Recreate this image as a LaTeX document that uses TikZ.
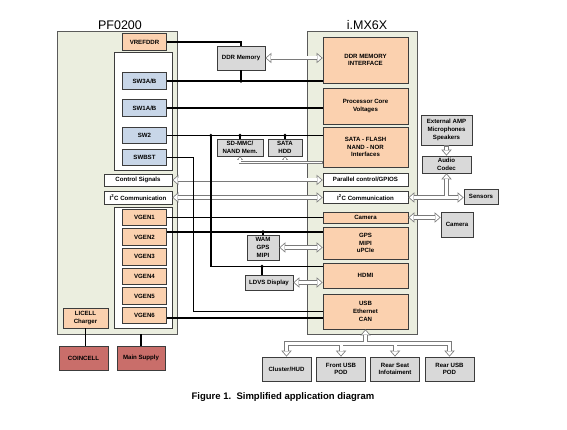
\documentclass[tikz,border=0pt]{standalone}
\usepackage{fontspec}
\setmainfont{Liberation Sans}
\usetikzlibrary{arrows.meta}

\definecolor{chipgreen}{HTML}{EBEEDF}
\definecolor{chipline}{HTML}{5A5A5A}
\definecolor{boxline}{HTML}{3C3C3C}
\definecolor{pwrorange}{HTML}{FBD1AF}
\definecolor{swblue}{HTML}{C8D6E8}
\definecolor{extgray}{HTML}{D9D9D9}
\definecolor{cellred}{HTML}{C96E6A}
\definecolor{pipegray}{HTML}{7A7A7A}
\newcommand\boxfont{\bfseries\fontsize{6.1}{7.7}\selectfont}

\begin{document}
\begin{tikzpicture}[x=1pt, y=-1pt,
		chip/.style={draw=chipline, fill=chipgreen, line width=0.8pt, inner sep=0pt},
		group/.style={draw=boxline, fill=white, line width=0.8pt, inner sep=0pt},
		blk/.style={draw=boxline, line width=0.8pt, inner sep=0pt, align=center, font=\boxfont},
		pwr/.style={blk, fill=pwrorange},
		sw/.style={blk, fill=swblue},
		ext/.style={blk, fill=extgray},
		bus/.style={blk, fill=white},
		cell/.style={blk, fill=cellred},
		pfbox/.style={minimum width=44pt, minimum height=16.5pt},
		imxbox/.style={minimum width=85pt},
		podbox/.style={ext, minimum width=49pt, minimum height=24pt},
		title/.style={font=\fontsize{12.5}{14}\selectfont, inner sep=0pt},
		wire/.style={line width=1.6pt},
		junction/.style={circle, fill, inner sep=0pt, minimum size=3.6pt},
		hollow/.style={draw=pipegray, line width=4.6pt,
			>={Triangle[length=6pt, width=10.5pt, line width=0pt]}},
		hollowfill/.style={draw=white, line width=3pt,
			>={Triangle[length=4pt, width=7pt, line width=0pt]}, shorten >=1.2pt, shorten <=1.2pt},
		thinpipe/.style={draw=pipegray, line width=2.8pt,
			>={Triangle[length=3.5pt, width=6pt, line width=0pt]}},
		thinpipefill/.style={draw=white, line width=1.4pt,
			>={Triangle[length=2.2pt, width=3.8pt, line width=0pt]}, shorten >=0.9pt, shorten <=0.9pt}]
		\useasboundingbox (0,0) rectangle (567,430);

		% the two chips
		\draw (117,182.5) node[chip, minimum width=120pt, minimum height=303pt] (pf) {};
		\draw (120,25) node[title] (pftitle) {PF0200};
		\draw (362,182.5) node[chip, minimum width=110pt, minimum height=303pt] (imx) {};
		\draw (367,25) node[title] (imxtitle) {i.MX6X};

		% PF0200 blocks
		\draw (143,111) node[group, minimum width=58pt, minimum height=118pt] (swgroup) {};
		\draw (143,267.5) node[group, minimum width=58pt, minimum height=121pt] (vgroup) {};
		\draw (144.5,42) node[pwr, pfbox] (vref) {VREFDDR};
		\draw (144.5,81) node[sw, pfbox] (sw3) {SW3A/B};
		\draw (144.5,108) node[sw, pfbox] (sw1) {SW1A/B};
		\draw (144.5,135.5) node[sw, pfbox] (sw2) {SW2};
		\draw (144.5,157.5) node[sw, pfbox] (swbst) {SWBST};
		\draw (138,180) node[bus, minimum width=68pt, minimum height=12pt] (ctrl) {Control Signals};
		\draw (138,197.5) node[bus, minimum width=68pt, minimum height=13pt] (i2cl) {I\textsuperscript{2}C Communication};
		\draw (144.5,217.5) node[pwr, pfbox] (vgen1) {VGEN1};
		\draw (144.5,237.1) node[pwr, pfbox] (vgen2) {VGEN2};
		\draw (144.5,256.7) node[pwr, pfbox] (vgen3) {VGEN3};
		\draw (144.5,276.3) node[pwr, pfbox] (vgen4) {VGEN4};
		\draw (144.5,295.9) node[pwr, pfbox] (vgen5) {VGEN5};
		\draw (144.5,315.5) node[pwr, pfbox] (vgen6) {VGEN6};
		\draw (85.5,318) node[pwr, minimum width=45pt, minimum height=20pt] (licell) {LICELL\\Charger};
		\draw (83.5,358) node[cell, minimum width=49pt, minimum height=24pt] (coin) {COINCELL};
		\draw (141,358) node[cell, minimum width=48pt, minimum height=24pt] (main) {Main Supply};

		% i.MX6X blocks
		\draw (365.5,60) node[pwr, imxbox, minimum height=46pt] (ddrif) {DDR MEMORY\\INTERFACE};
		\draw (365.5,106) node[pwr, imxbox, minimum height=36pt] (pcv) {Processor Core\\Voltages};
		\draw (365.5,147) node[pwr, imxbox, minimum height=40pt] (sataif) {SATA - FLASH\\NAND - NOR\\Interfaces};
		\draw (365.5,179.5) node[bus, imxbox, minimum height=13pt] (par) {Parallel control/GPIOS};
		\draw (365.5,197.5) node[bus, imxbox, minimum height=12pt] (i2cr) {I\textsuperscript{2}C Communication};
		\draw (365.5,217.5) node[pwr, imxbox, minimum height=11pt] (camin) {Camera};
		\draw (365.5,243) node[pwr, imxbox, minimum height=32pt] (gps) {GPS\\MIPI\\uPCIe};
		\draw (365.5,275.5) node[pwr, imxbox, minimum height=25pt] (hdmi) {HDMI};
		\draw (365.5,311.5) node[pwr, imxbox, minimum height=35pt] (usb) {USB\\Ethernet\\CAN};

		% devices
		\draw (241,58) node[ext, minimum width=48pt, minimum height=24pt] (ddrmem) {DDR Memory};
		\draw (240,147.5) node[ext, minimum width=46pt, minimum height=17pt] (sdmmc) {SD-MMC/\\NAND Mem.};
		\draw (285,147.5) node[ext, minimum width=34pt, minimum height=17pt] (hdd) {SATA\\HDD};
		\draw (263,247.5) node[ext, minimum width=32pt, minimum height=25pt] (wam) {WAM\\GPS\\MIPI};
		\draw (269,282.5) node[ext, minimum width=48pt, minimum height=15pt] (ldvs) {LDVS Display};
		\draw (446.5,130) node[ext, minimum width=51pt, minimum height=30pt] (amp) {External AMP\\Microphones\\Speakers};
		\draw (446.5,164.5) node[ext, minimum width=49pt, minimum height=17pt] (codec) {Audio\\Codec};
		\draw (481,196.5) node[ext, minimum width=34pt, minimum height=15pt] (sensors) {Sensors};
		\draw (457,224.5) node[ext, minimum width=32pt, minimum height=25pt] (camext) {Camera};
		\draw (286.5,369) node[podbox] (cluster) {Cluster/HUD};
		\draw (341,369) node[podbox] (frontusb) {Front USB\\POD};
		\draw (395,369) node[podbox] (rearseat) {Rear Seat\\Infotaiment};
		\draw (449.5,369) node[podbox] (rearusb) {Rear USB\\POD};

		\coordinate (satabus) at ([yshift=5pt]sataif.south west);
		\coordinate (podbus) at ([yshift=-14pt]usb.south);
		\coordinate (hdmiin) at ([yshift=9pt]hdmi.west);
		\coordinate (gpsin) at ([yshift=11pt]gps.west);
		\coordinate (usbin) at ([yshift=-6.5pt]usb.west);

		% data paths
		\foreach \layer in {hollow, hollowfill} {
			\draw[\layer, <->] (ddrmem.east) -- (ddrmem.east -| ddrif.west);
			\draw[\layer, <->] (ctrl.east) -- (ctrl.east -| par.west);
			\draw[\layer, <->] (i2cl.east) -- (i2cl.east -| i2cr.west);
			\draw[\layer, <->] (i2cr.east) -- (i2cr.east -| sensors.west);
			\draw[\layer, <-] (codec.south) -- (codec.south |- i2cr.east);
			\draw[\layer, ->] (amp.south) -- (codec.north);
			\draw[\layer, <->] (camin.east) -- (camin.east -| camext.west);
			\draw[\layer, <->] (wam.east) -- (wam.east -| gps.west);
			\draw[\layer, <->] (ldvs.east) -- (ldvs.east -| hdmi.west);
			\draw[\layer, <-] (usb.south) -- (podbus);
			\draw[\layer, <->] (cluster.north) |- (podbus) -| (rearusb.north);
			\draw[\layer, <-] (frontusb.north) -- (frontusb.north |- podbus);
			\draw[\layer, <-] (rearseat.north) -- (rearseat.north |- podbus);
		}
		\foreach \layer in {thinpipe, thinpipefill} {
			\draw[\layer, <-] (sdmmc.south) |- (satabus);
			\draw[\layer, <-] (hdd.south) -- (hdd.south |- satabus);
		}

		% supply rails
		\draw[wire] (vref.east) -| (ddrmem.north);
		\draw[wire] (sw3.east) -- (sw3.east -| ddrif.west);
		\draw[wire] (ddrmem.south) -- (ddrmem.south |- sw3.east) node[junction] {};
		\draw[wire] (sw1.east) -- (sw1.east -| pcv.west);
		\draw[wire] (sw2.east) -- (sw2.east -| sataif.west);
		\draw[wire] (sdmmc.north) -- (sdmmc.north |- sw2.east) node[junction] {};
		\draw[wire] (hdd.north) -- (hdd.north |- sw2.east) node[junction] {};
		\draw[wire] (sw2.east) ++(44,0) node[junction] (hdmitap) {} |- (hdmiin);
		\draw[wire] ([xshift=-7pt]ldvs.north) -- ([xshift=-7pt]ldvs.north |- hdmiin) node[junction] {};
		\draw[wire] (swbst.east) -- ++(26.5,0) |- (usb.west);
		\draw[wire] (vgen1.east) -- (vgen1.east -| camin.west);
		\draw[wire] (vgen2.east |- gpsin) -- (gpsin);
		\draw[wire] (wam.north) -- (wam.north |- gpsin) node[junction] {};
		\draw[wire] (vgen6.east |- usbin) -- (usbin);
		\draw[wire] (licell.south) -- (licell.south |- coin.north);
		\draw[wire] (main.north) -- (main.north |- pf.south);

		\draw (283,397) node[font=\bfseries\fontsize{9.5}{11}\selectfont] (caption) {Figure 1.\ \ Simplified application diagram};
	\end{tikzpicture}
\end{document}
